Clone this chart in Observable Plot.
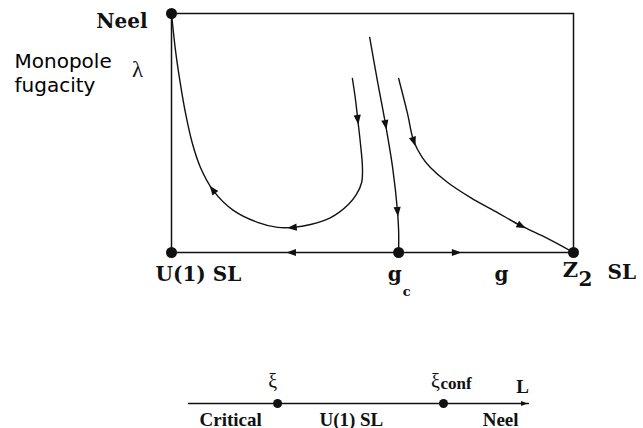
<!DOCTYPE html>
<html><head><meta charset="utf-8">
<script src="https://cdn.jsdelivr.net/npm/d3@7"></script>
<script src="https://cdn.jsdelivr.net/npm/@observablehq/plot@0.6"></script>
<style>body{margin:0;background:#fff;} #chart svg{display:block;}</style>
</head><body><div id="chart"></div>
<script>
// ---- Data: RG flows in the (g, λ) plane, both axes 0..100 ----
const flowToNeel = [[45.0,72.8],[45.8,63.6],[46.3,56.1],[47.0,45.6],[47.5,35.6],[47.3,29.3],[46.0,24.3],[44.0,20.1],[39.6,14.6],[34.6,11.7],[30.3,10.5],[26.4,10.5],[21.4,12.6],[15.4,17.6],[10.4,25.9],[7.2,35.6],[5.2,45.6],[3.5,58.2],[2.2,70.7],[1.0,84.5],[0,100]];
const flowToCritical = [[49.3,90.0],[51.2,72.0],[53.2,54.0],[55.0,35.6],[56.2,17.6],[56.5,9.2],[56.5,0]];
const flowToZ2 = [[56.5,72.8],[58.7,58.2],[60.2,46.9],[62.4,39.7],[64.4,35.6],[68.7,29.3],[74.4,23.0],[81.1,16.7],[86.8,11.3],[93.5,5.9],[100,0]];
const flowAxisLeft = [[56.5,0],[30.1,0],[0,0]];
const flowAxisRight = [[56.5,0],[70.6,0],[100,0]];
const arrowAt = [["flowToNeel",2],["flowToNeel",10],["flowToNeel",14],["flowToCritical",2],["flowToCritical",4],["flowToZ2",2],["flowToZ2",8],["flowAxisLeft",1],["flowAxisRight",1]];
const fixedNames = ["Neel","U(1) SL","g_c","Z2 SL"];
const fixedG = [0,0,56.5,100];
const fixedLambda = [100,0,0,0];
const gLabelG = 82.1;

// ---- Data: length-scale line L (0..100) ----
const scaleNames = ["ξ","ξ_conf"];
const scaleL = [26.2, 75.0];
const regionNames = ["Critical","U(1) SL","Neel"];
const regionL = [12.4, 47.9, 91.8];
const axisEndL = 100;

// ---- Layout ----
const W = 643, H1 = 290, H2 = 138;
const m1 = {left:171, right:70, top:13, bottom:38};
const kx = (W - m1.left - m1.right) / 100;
const ky = (H1 - m1.top - m1.bottom) / 100;
const ink = "#111";
const serifTop = "DejaVu Serif";
const serifBot = "Liberation Serif";

const curves = {flowToNeel, flowToCritical, flowToZ2, flowAxisLeft, flowAxisRight};
const arrows = arrowAt.map(([name, i]) => {
  const c = curves[name];
  const a = c[Math.max(i - 1, 0)], b = c[Math.min(i + 1, c.length - 1)];
  const dx = (b[0] - a[0]) * kx, dy = -(b[1] - a[1]) * ky;
  return {g: c[i][0], l: c[i][1], rot: Math.atan2(dx, -dy) * 180 / Math.PI};
});
const fixed = fixedNames.map((n, i) => ({name: n, g: fixedG[i], l: fixedLambda[i]}));
const arrowHead = {draw(ctx, size) {
  const r = Math.sqrt(size / Math.PI);
  ctx.moveTo(0, -1.6 * r); ctx.lineTo(0.95 * r, 0.9 * r); ctx.lineTo(-0.95 * r, 0.9 * r); ctx.closePath();
}};
const P = (name) => fixed.find(d => d.name === name);

const lineOpts = {x: d => d[0], y: d => d[1], curve: "catmull-rom", stroke: ink, strokeWidth: 1.4};
const topPlot = Plot.plot({
  width: W, height: H1, marginLeft: m1.left, marginRight: m1.right, marginTop: m1.top, marginBottom: m1.bottom,
  x: {domain: [0, 100], axis: null},
  y: {domain: [0, 100], axis: null},
  style: {background: "white", overflow: "visible"},
  marks: [
    Plot.frame({stroke: ink, strokeWidth: 1.5}),
    Plot.line(flowToNeel, lineOpts),
    Plot.line(flowToCritical, lineOpts),
    Plot.line(flowToZ2, lineOpts),
    Plot.dot(arrows, {x: "g", y: "l", rotate: "rot", symbol: arrowHead, r: 3.8, fill: ink, stroke: null}),
    Plot.dot(fixed, {x: "g", y: "l", r: 5.5, fill: ink, stroke: null}),
    Plot.text([P("Neel")], {x: "g", y: "l", text: () => "Neel", textAnchor: "end", dx: -24, dy: 8.5, fontFamily: serifTop, fontWeight: "bold", fontSize: 20, fill: ink}),
    Plot.text([P("U(1) SL")], {x: "g", y: "l", text: () => "U(1) SL", textAnchor: "start", lineAnchor: "top", dx: -16, dy: 13.8, fontFamily: serifTop, fontWeight: "bold", fontSize: 20, fill: ink}),
    Plot.text([P("g_c")], {x: "g", y: "l", text: () => "g", lineAnchor: "top", dx: -4, dy: 13.8, fontFamily: serifTop, fontWeight: "bold", fontSize: 20, fill: ink}),
    Plot.text([P("g_c")], {x: "g", y: "l", text: () => "c", lineAnchor: "top", dx: 8, dy: 34, fontFamily: serifTop, fontWeight: "bold", fontSize: 13, fill: ink}),
    Plot.text([{g: gLabelG, l: 0}], {x: "g", y: "l", text: () => "g", lineAnchor: "top", dy: 13.8, fontFamily: serifTop, fontWeight: "bold", fontSize: 20, fill: ink}),
    Plot.text([P("Z2 SL")], {x: "g", y: "l", text: () => "Z", lineAnchor: "top", dx: -3, dy: 10, fontFamily: serifTop, fontWeight: "bold", fontSize: 21, fill: ink}),
    Plot.text([P("Z2 SL")], {x: "g", y: "l", text: () => "2", lineAnchor: "top", dx: 12, dy: 19, fontFamily: serifTop, fontWeight: "bold", fontSize: 20, fill: ink}),
    Plot.text([P("Z2 SL")], {x: "g", y: "l", text: () => "SL", textAnchor: "start", lineAnchor: "top", dx: 34, dy: 12.5, fontFamily: serifTop, fontWeight: "bold", fontSize: 20, fill: ink}),
    Plot.text(["λ"], {frameAnchor: "top-left", text: d => d, textAnchor: "middle", lineAnchor: "middle", dx: -34, dy: 56, fontFamily: serifBot, fontSize: 23, fill: ink}),
    Plot.text(["Monopole\nfugacity"], {frameAnchor: "top-left", text: d => d, textAnchor: "start", lineAnchor: "top", lineHeight: 1.17, dx: -157, dy: 38.3, fontFamily: "DejaVu Sans", fontSize: 20, fill: "#000"})
  ]
});

const scalePts = scaleNames.map((n, i) => ({name: n, L: scaleL[i]}));
const regions = regionNames.map((n, i) => ({name: n, L: regionL[i]}));
const bottomPlot = Plot.plot({
  width: W, height: H2, marginLeft: 188, marginRight: 115, marginTop: 0, marginBottom: 25,
  x: {domain: [0, 100], axis: null},
  y: {domain: [0, 1], axis: null},
  style: {background: "white", overflow: "visible"},
  marks: [
    Plot.line([[0, 0], [axisEndL, 0]], {x: d => d[0], y: d => d[1], stroke: ink, strokeWidth: 1.3}),
    Plot.dot([{L: axisEndL - 1.5}], {x: "L", y: () => 0, rotate: 90, symbol: arrowHead, r: 2.6, fill: ink, stroke: null}),
    Plot.dot(scalePts, {x: "L", y: () => 0, r: 4.5, fill: ink, stroke: null}),
    Plot.text([scalePts[0]], {x: "L", y: () => 0, text: () => "ξ", dx: -5, dy: -22, fontFamily: serifBot, fontSize: 20, fill: ink}),
    Plot.text([scalePts[1]], {x: "L", y: () => 0, text: () => "ξ", dx: -8, dy: -22, fontFamily: serifBot, fontSize: 20, fill: ink}),
    Plot.text([scalePts[1]], {x: "L", y: () => 0, text: () => "conf", textAnchor: "start", dx: -3, dy: -20, fontFamily: serifBot, fontWeight: "bold", fontSize: 17, fill: ink}),
    Plot.text([{L: axisEndL}], {x: "L", y: () => 0, text: () => "L", dx: -6, dy: -17, fontFamily: serifBot, fontWeight: "bold", fontSize: 19, fill: ink}),
    Plot.text(regions, {x: "L", y: () => 0, text: "name", lineAnchor: "top", dy: 8.5, fontFamily: serifBot, fontWeight: "bold", fontSize: 19, fill: ink})
  ]
});

document.getElementById("chart").append(topPlot, bottomPlot);
</script>
</body></html>
